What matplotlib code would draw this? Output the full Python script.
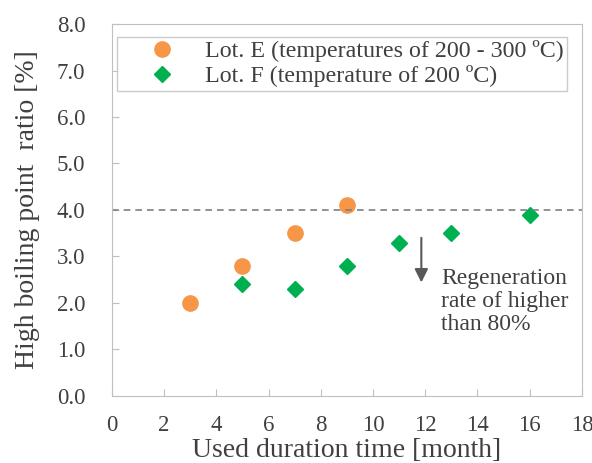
import matplotlib
matplotlib.use("Agg")
import matplotlib.pyplot as plt

plt.rcParams['font.family'] = ['Liberation Serif', 'DejaVu Serif']

lot_e_x = [3, 5, 7, 9]
lot_e_y = [2.0, 2.8, 3.5, 4.1]
lot_f_x = [5, 7, 9, 11, 13, 16]
lot_f_y = [2.4, 2.3, 2.8, 3.3, 3.5, 3.9]
threshold = 4.0

fig = plt.figure(figsize=(5.92, 4.63), dpi=100)
ax = fig.add_axes([0.189, 0.145, 0.794, 0.803])

ax.plot(lot_e_x, lot_e_y, 'o', color='#F79646', ms=11, mec='#F79646',
        label='Lot. E (temperatures of 200 - 300 ºC)')
ax.plot(lot_f_x, lot_f_y, 'D', color='#00B050', ms=8.3, mec='#00B050',
        label='Lot. F (temperature of 200 ºC)')
ax.axhline(threshold, color='#7f7f7f', ls=(0, (4, 3)), lw=1.2)

ax.annotate('', xy=(11.85, 2.38), xytext=(11.85, 3.46),
            arrowprops=dict(arrowstyle='-|>', color='#595959', lw=1.5,
                            mutation_scale=20))
ax.text(12.6, 2.03, 'Regeneration\nrate of higher\nthan 80%', fontsize=17,
        color='#404040', va='center', linespacing=1.13)

ax.set_xlim(0, 18)
ax.set_ylim(0, 8)
ax.set_xticks(range(0, 19, 2))
ax.set_yticks([i * 1.0 for i in range(9)])
ax.set_yticklabels(['%.1f' % (i * 1.0) for i in range(9)])
ax.tick_params(direction='in', colors='#bfbfbf', labelcolor='#404040',
               labelsize=16.5, length=5)
ax.tick_params(axis='x', pad=14)
ax.tick_params(axis='y', pad=19)
for s in ax.spines.values():
    s.set_color('#bfbfbf')
ax.set_xlabel('Used duration time [month]', fontsize=20, color='#404040', labelpad=1)
ax.set_ylabel('High boiling point  ratio [%]', fontsize=20, color='#404040', labelpad=12)

leg = ax.legend(loc='upper left', bbox_to_anchor=(0.011, 0.966), fontsize=17.3,
                frameon=True, fancybox=False, edgecolor='#bfbfbf',
                labelspacing=0.12, handlelength=3.4, handletextpad=0.1,
                borderpad=0.15, borderaxespad=0, labelcolor='#404040')
leg.get_frame().set_linewidth(1.0)

fig.savefig('out.png', dpi=100)
